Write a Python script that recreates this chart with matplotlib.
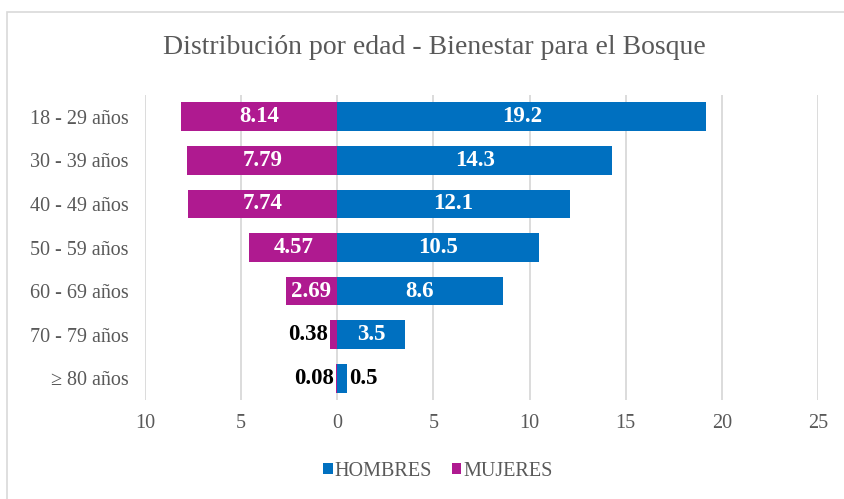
import matplotlib.pyplot as plt
from matplotlib.patches import Rectangle

# data
grupos = ['18 - 29 años', '30 - 39 años', '40 - 49 años', '50 - 59 años',
          '60 - 69 años', '70 - 79 años', '≥ 80 años']
hombres = [19.2, 14.3, 12.1, 10.5, 8.6, 3.5, 0.5]
mujeres = [8.14, 7.79, 7.74, 4.57, 2.69, 0.38, 0.08]
hombres_txt = ['19.2', '14.3', '12.1', '10.5', '8.6', '3.5', '0.5']
mujeres_txt = ['8.14', '7.79', '7.74', '4.57', '2.69', '0.38', '0.08']
xticks = [-10, -5, 0, 5, 10, 15, 20, 25]

AZUL = '#0070C0'
MAGENTA = '#AF1A90'
GRIS = '#595959'

plt.rcParams['font.family'] = ['Liberation Serif', 'DejaVu Serif']

fig = plt.figure(figsize=(8.45, 4.99), dpi=100)
# light border around the chart area
fig.patches.append(Rectangle((7 / 845, -0.05), 1.1, 1 - 12 / 499 + 0.05,
                             transform=fig.transFigure, fill=False,
                             edgecolor='#d9d9d9', linewidth=1.2))

ax = fig.add_axes([145 / 845, 1 - 400 / 499, 673 / 845, 305 / 499])

y = list(range(len(grupos)))
ax.barh(y, hombres, height=0.66, color=AZUL, label='HOMBRES', zorder=3)
ax.barh(y, [-m for m in mujeres], height=0.66, color=MAGENTA, label='MUJERES', zorder=3)

# labels for the bars
fs = 16.5
for i in y:
    h, m = hombres[i], mujeres[i]
    if h >= 2:
        ax.text(h / 2, i, hombres_txt[i], ha='center', va='center', color='white',
                fontsize=fs, fontweight='bold', zorder=4)
    else:
        ax.text(h + 0.1, i, hombres_txt[i], ha='left', va='center', color='black',
                fontsize=fs, fontweight='bold', zorder=4)
    if m >= 2:
        ax.text(-m / 2, i, mujeres_txt[i], ha='center', va='center', color='white',
                fontsize=fs, fontweight='bold', zorder=4)
    else:
        ax.text(-m - 0.1, i, mujeres_txt[i], ha='right', va='center', color='black',
                fontsize=fs, fontweight='bold', zorder=4)

ax.set_xlim(-10, 25)
ax.set_ylim(len(grupos) - 0.5, -0.5)
ax.set_xticks(xticks)
ax.set_xticklabels([str(abs(t)) for t in xticks])
ax.set_yticks(y)
ax.set_yticklabels(grupos)
ax.tick_params(axis='both', length=0, labelsize=14.5, colors=GRIS)
ax.tick_params(axis='x', pad=10)
ax.tick_params(axis='y', pad=12)
ax.grid(axis='x', color='#d9d9d9', linewidth=1.3, zorder=0)
for s in ax.spines.values():
    s.set_visible(False)

fig.text(434 / 845, 1 - 48 / 499, 'Distribución por edad - Bienestar para el Bosque',
         ha='center', va='center', fontsize=20, color=GRIS)

fig.legend(loc='center', bbox_to_anchor=(438 / 845, 1 - 471 / 499), ncol=2, frameon=False,
           fontsize=14.5, handlelength=0.45, handleheight=0.45, handletextpad=0.1,
           columnspacing=1.0, labelcolor=GRIS)

fig.savefig('out.png', dpi=100)
